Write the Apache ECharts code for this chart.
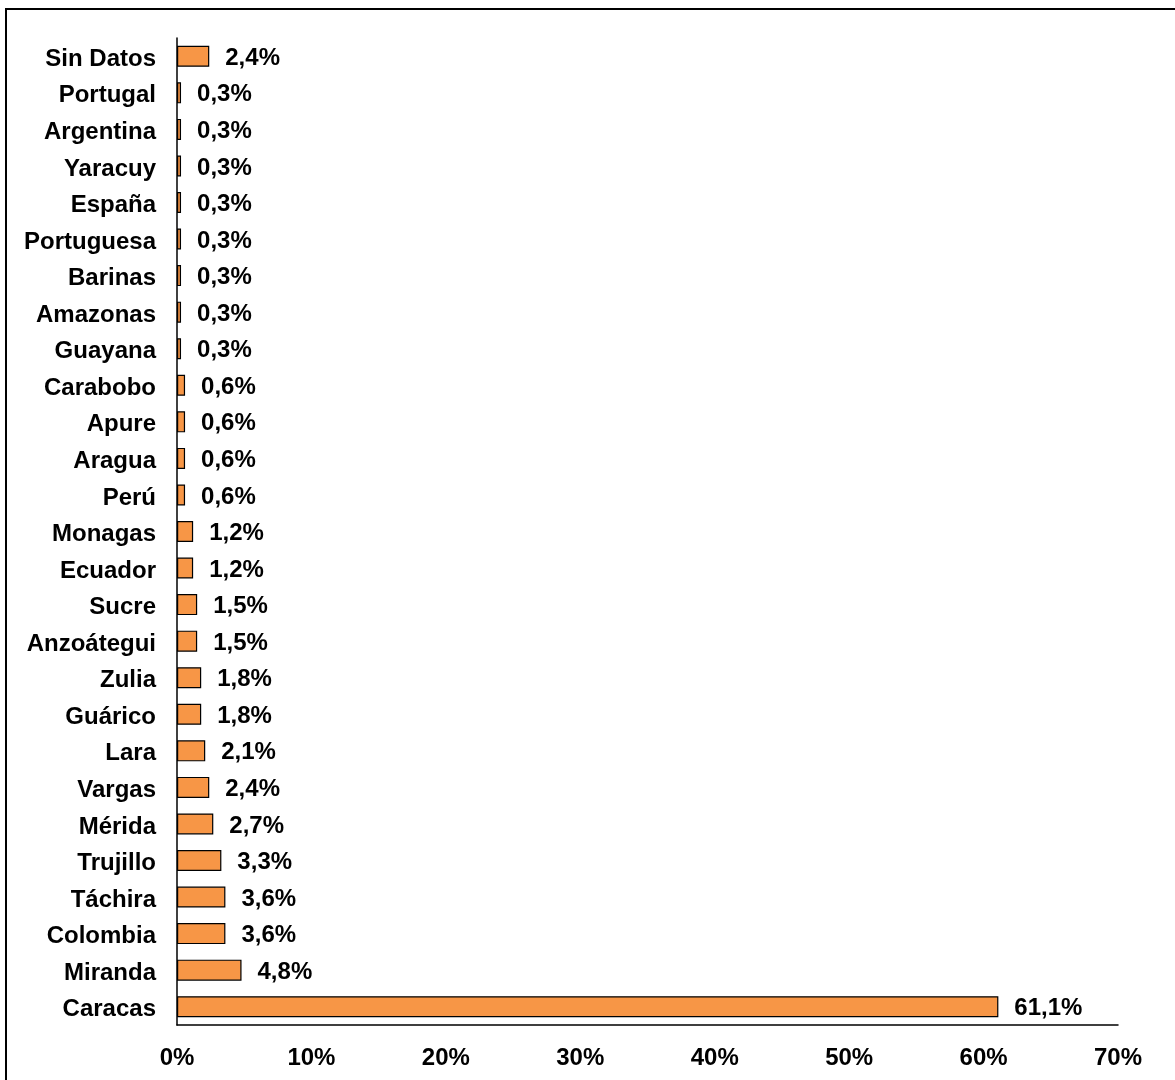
<!DOCTYPE html>
<html>
<head>
<meta charset="utf-8">
<script src="https://cdn.jsdelivr.net/npm/echarts@6/dist/echarts.min.js"></script>
<style>
html,body{margin:0;padding:0;background:#fff;}
#chart{width:1175px;height:1080px;}
</style>
</head>
<body>
<div id="chart"></div>
<script>
// Categories bottom to top
const categories = ["Caracas","Miranda","Colombia","Táchira","Trujillo","Mérida","Vargas","Lara","Guárico","Zulia","Anzoátegui","Sucre","Ecuador","Monagas","Perú","Aragua","Apure","Carabobo","Guayana","Amazonas","Barinas","Portuguesa","España","Yaracuy","Argentina","Portugal","Sin Datos"];
const values = [61.1,4.8,3.6,3.6,3.3,2.7,2.4,2.1,1.8,1.8,1.5,1.5,1.2,1.2,0.6,0.6,0.6,0.6,0.3,0.3,0.3,0.3,0.3,0.3,0.3,0.3,2.4];
const xTicks = [0,10,20,30,40,50,60,70];

const chart = echarts.init(document.getElementById('chart'));
const font = 'Liberation Sans, Arial, sans-serif';
const txt = {color: '#000', fontFamily: font, fontWeight: 'bold', fontSize: 24};
chart.setOption({
  animation: false,
  grid: {left: 177, right: 57, top: 38, bottom: 55, containLabel: false},
  graphic: [{
    type: 'rect', z: 100, silent: true,
    shape: {x: 6, y: 9, width: 1200, height: 1100},
    style: {fill: 'none', stroke: '#000', lineWidth: 2}
  }],
  xAxis: {
    type: 'value', min: 0, max: 70, interval: 10,
    axisLine: {show: true, lineStyle: {color: '#000', width: 1.5}},
    axisTick: {show: false},
    splitLine: {show: false},
    axisLabel: Object.assign({margin: 21, formatter: v => xTicks.includes(v) ? v + '%' : ''}, txt)
  },
  yAxis: {
    type: 'category', data: categories,
    axisLine: {show: true, lineStyle: {color: '#000', width: 1.5}},
    axisTick: {show: false},
    axisLabel: Object.assign({margin: 21,
      formatter: v => '{s| }{a|' + v + '}',
      rich: {
        s: Object.assign({lineHeight: 30, width: 0}, txt),
        a: Object.assign({lineHeight: 24, verticalAlign: 'bottom'}, txt)
      }
    }, txt)
  },
  series: [{
    type: 'bar', data: values, barWidth: 21,
    itemStyle: {color: '#F79646', borderColor: '#000', borderWidth: 1.2},
    label: Object.assign({show: true, position: 'right', distance: 16, offset: [0, 2],
      formatter: p => p.value.toFixed(1).replace('.', ',') + '%'}, txt)
  }]
});
</script>
</body>
</html>
